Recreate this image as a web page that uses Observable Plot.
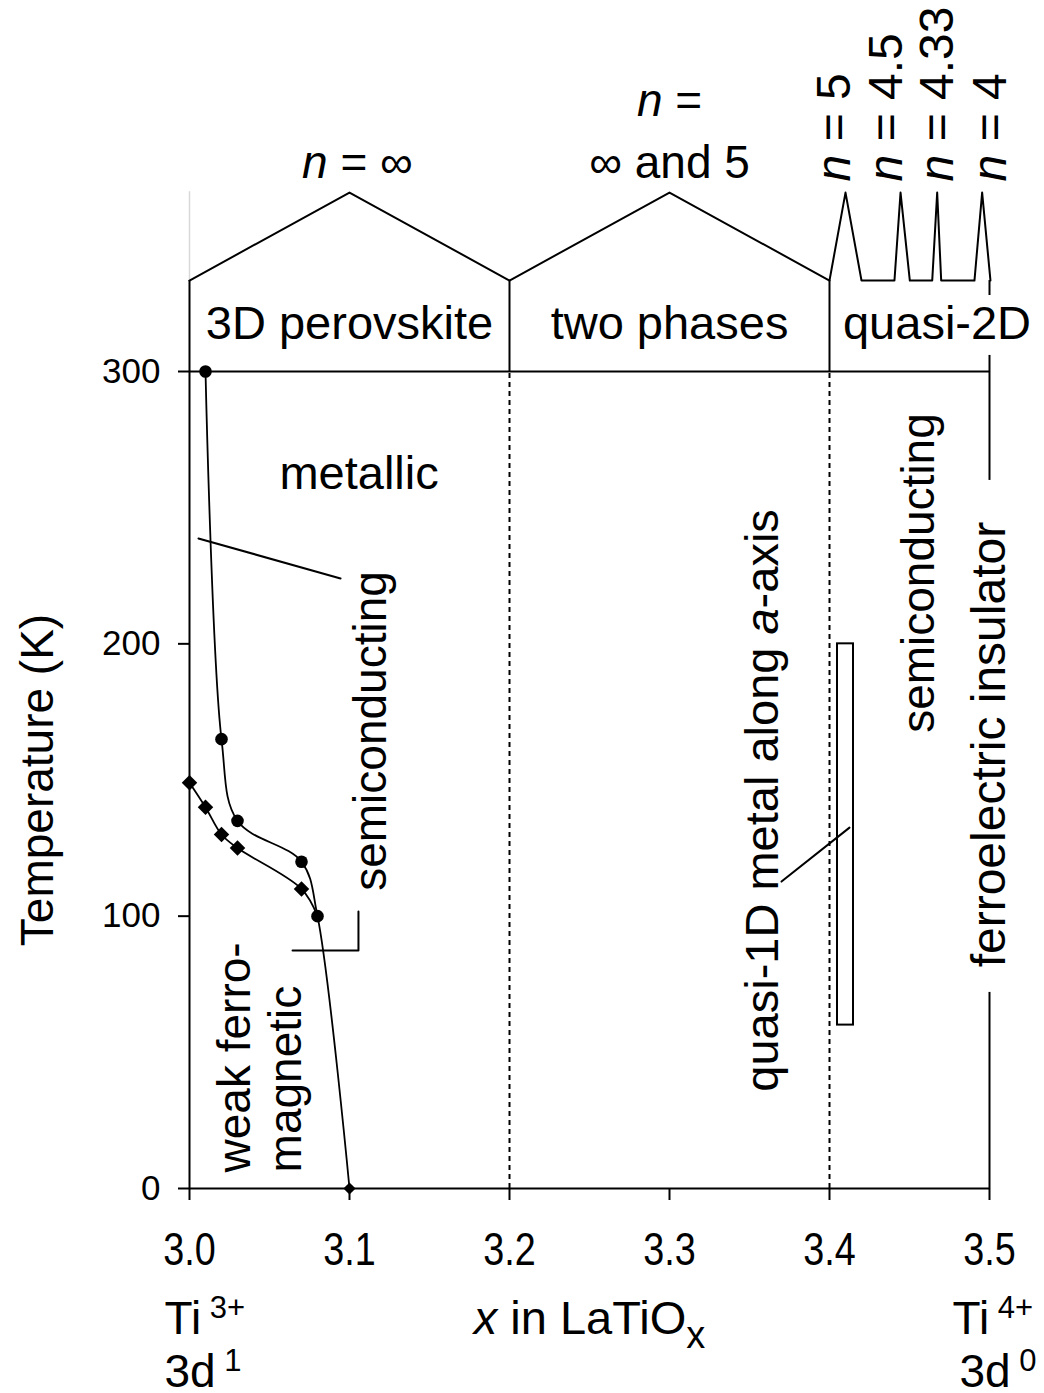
<!DOCTYPE html>
<html>
<head>
<meta charset="utf-8">
<script src="https://cdn.jsdelivr.net/npm/d3@7"></script>
<script src="https://cdn.jsdelivr.net/npm/@observablehq/plot@0.6"></script>
<style>
  html, body { margin: 0; padding: 0; background: #fff; }
</style>
</head>
<body>
<div id="chart"></div>
<script>
// Electronic phase diagram of LaTiO_x (temperature vs oxygen content x)

// Axis ticks
const xTicks = [3.0, 3.1, 3.2, 3.3, 3.4, 3.5];
const tTicks = [0, 100, 200, 300];

// Metal / semiconductor crossover (filled circles)
const transX = [3.01, 3.02, 3.03, 3.07, 3.08];
const transT = [300, 165, 135, 120, 100];

// Weak ferromagnetic ordering temperature (filled diamonds)
const ferroX = [3.0, 3.01, 3.02, 3.03, 3.07];
const ferroT = [149, 140, 130, 125, 110];

// End of the boundary at T = 0
const endX = [3.1];
const endT = [0];

// Structural band above the diagram: roof outline (x, T)
const roofX = [3.0, 3.1, 3.2, 3.3, 3.4, 3.41, 3.42, 3.4406, 3.4444, 3.4502, 3.4642, 3.4673, 3.4698, 3.4906, 3.4954, 3.5006];
const roofT = [333.4, 365.7, 333.4, 365.7, 333.4, 365.7, 333.4, 333.4, 365.7, 333.4, 333.4, 365.7, 333.4, 333.4, 365.7, 333.4];

// Solid frame segments (x, from T, to T)
const frameX  = [3.0, 3.2, 3.4, 3.5, 3.5, 3.5];
const frameLo = [0, 300, 300, 0, 260, 327.9];
const frameHi = [333.4, 333.4, 333.4, 72, 305.9, 333.4];

// Dashed phase boundaries
const boundaryX = [3.2, 3.4];

// Leader lines (id, x, T)
const leaderId = [1, 1, 2, 2, 2, 3, 3];
const leaderX  = [3.0056, 3.0944, 3.0644, 3.1056, 3.1056, 3.37, 3.4125];
const leaderT  = [238.7, 224.0, 87.4, 87.4, 101.7, 112.7, 132.5];

// Quasi-1D metal range
const q1dX = [3.405, 3.415];
const q1dT = [60, 200];

// Region labels
const regionNames = ["3D perovskite", "two phases", "quasi-2D"];
const regionX = [3.1, 3.3, 3.4672];
const regionT = 312.1;

const seriesN = ["*n* = ∞", "*n* =\n∞ and 5"];
const seriesNX = [3.105, 3.3];
const seriesNT = 371.2;

const layerN = ["*n* = 5", "*n* = 4.5", "*n* = 4.33", "*n* = 4"];
const layerNX = [3.4131, 3.4456, 3.4769, 3.51];
const layerNT = 369.8;

// ---------------------------------------------------------------
const big = 46;
const wide = 47;
const baseFont = "'Liberation Sans', Arial, Helvetica, sans-serif";

function fontAvailable(name) {
  const ctx = document.createElement("canvas").getContext("2d");
  const probe = "3.0 100 0123456789 abcXYZ";
  ctx.font = "40px monospace";
  const a = ctx.measureText(probe).width;
  ctx.font = `40px "${name}", monospace`;
  const b = ctx.measureText(probe).width;
  return a !== b;
}
const narrowName = ["Liberation Sans Narrow", "Arial Narrow"].find(fontAvailable);
const tickFont = narrowName ? `'${narrowName}', ${baseFont}` : baseFont;

const zip = (xs, ys) => xs.map((x, i) => ({x, y: Array.isArray(ys) ? ys[i] : ys}));

const transPts = zip(transX, transT);
const ferroPts = zip(ferroX, ferroT);
const endPts = zip(endX, endT);
const transLine = transPts.concat(endPts);
const ferroLine = ferroPts.concat([transPts[transPts.length - 1]]);
const roof = zip(roofX, roofT);
const frame = frameX.map((x, i) => ({x, lo: frameLo[i], hi: frameHi[i]}));
const leaders = leaderX.map((x, i) => ({id: leaderId[i], x, y: leaderT[i]}));

const lineStyle = {stroke: "black", strokeWidth: 2};
const textStyle = {fill: "black", fontSize: big, fontFamily: baseFont};
const flatStyle = {fill: "black", fontSize: wide, fontFamily: baseFont};

const svg = Plot.plot({
  width: 1044,
  height: 1393,
  marginLeft: 189,
  marginRight: 55,
  marginTop: 371,
  marginBottom: 205,
  x: {domain: [3.0, 3.5]},
  y: {domain: [0, 300]},
  style: {background: "white", color: "black", fontFamily: baseFont, overflow: "visible"},
  marks: [
    // faint guide above the temperature axis
    Plot.ruleX([3.0], {y1: 333.4, y2: 366, stroke: "#d8d8d8", strokeWidth: 1.5}),
    // frame
    Plot.ruleX(frame, {x: "x", y1: "lo", y2: "hi", ...lineStyle}),
    Plot.ruleY([0, 300], {x1: 3.0, x2: 3.5, ...lineStyle}),
    Plot.ruleX(boundaryX, {y1: 0, y2: 300, stroke: "black", strokeWidth: 2, strokeDasharray: "5,4"}),
    Plot.line(roof, {x: "x", y: "y", ...lineStyle}),
    // axes
    Plot.axisY({ticks: tTicks, tickSize: 11, tickPadding: 18, label: null, strokeWidth: 2,
      fontSize: 35, fontFamily: baseFont}),
    Plot.axisX({ticks: xTicks, tickFormat: d3.format(".1f"), tickSize: 12, tickPadding: 32, label: null,
      strokeWidth: 2, fontSize: big, fontFamily: tickFont, className: "tick-labels"}),
    // quasi-1D range
    Plot.rect([0], {x1: q1dX[0], x2: q1dX[1], y1: q1dT[0], y2: q1dT[1], fill: "none", ...lineStyle}),
    // leaders
    Plot.line(leaders, {x: "x", y: "y", z: "id", ...lineStyle}),
    // boundaries
    Plot.line(ferroLine, {x: "x", y: "y", curve: "catmull-rom", stroke: "black", strokeWidth: 1.8}),
    Plot.line(transLine, {x: "x", y: "y", curve: "catmull-rom", stroke: "black", strokeWidth: 1.8}),
    Plot.dot(ferroPts, {x: "x", y: "y", symbol: "diamond2", r: 7, fill: "black", stroke: "none"}),
    Plot.dot(transPts, {x: "x", y: "y", symbol: "circle", r: 6.3, fill: "black", stroke: "none"}),
    Plot.dot(endPts, {x: "x", y: "y", symbol: "diamond2", r: 5.5, fill: "black", stroke: "none"}),
    // structural labels
    Plot.text(regionNames, {x: (d, i) => regionX[i], y: regionT, text: d => d,
      textAnchor: "middle", lineAnchor: "bottom", ...flatStyle}),
    Plot.text(seriesN, {x: (d, i) => seriesNX[i], y: seriesNT, text: d => d,
      textAnchor: "middle", lineAnchor: "bottom", lineHeight: 1.33, ...textStyle}),
    Plot.text(layerN, {x: (d, i) => layerNX[i], y: layerNT, text: d => d, rotate: -90,
      textAnchor: "start", lineAnchor: "bottom", ...textStyle, fontSize: 48}),
    // electronic phases
    Plot.text(["metallic"], {x: 3.106, y: 257, text: d => d, textAnchor: "middle", lineAnchor: "bottom", ...flatStyle}),
    Plot.text(["semiconducting"], {x: 3.1225, y: 168, text: d => d, rotate: -90,
      textAnchor: "middle", lineAnchor: "bottom", ...textStyle}),
    Plot.text(["weak ferro-\nmagnetic"], {x: 3.0694, y: 5.9, text: d => d, rotate: -90,
      textAnchor: "start", lineAnchor: "bottom", lineHeight: 1.1, ...textStyle}),
    Plot.text(["quasi-1D metal along *a*-axis"], {x: 3.3675, y: 142.5, text: d => d, rotate: -90,
      textAnchor: "middle", lineAnchor: "bottom", ...textStyle, fontSize: 47}),
    Plot.text(["semiconducting"], {x: 3.465, y: 226, text: d => d, rotate: -90,
      textAnchor: "middle", lineAnchor: "bottom", ...textStyle}),
    Plot.text(["ferroelectric insulator"], {x: 3.5, y: 163, text: d => d, rotate: -90,
      textAnchor: "middle", lineAnchor: "middle", ...textStyle, fontSize: 48}),
    // axis titles and end-member labels
    Plot.text(["Temperature (K)"], {x: 3.0, y: 150, dx: -137, text: d => d, rotate: -90,
      textAnchor: "middle", lineAnchor: "bottom", ...textStyle}),
    Plot.text(["*x* in LaTiO~x~"], {x: 3.25, y: 0, dy: 145, text: d => d,
      textAnchor: "middle", lineAnchor: "bottom", ...flatStyle}),
    Plot.text(["Ti^ 3+^"], {x: 3.0, y: 0, dx: -25, dy: 145, text: d => d,
      textAnchor: "start", lineAnchor: "bottom", ...textStyle}),
    Plot.text(["3d^ 1^"], {x: 3.0, y: 0, dx: -25, dy: 198, text: d => d,
      textAnchor: "start", lineAnchor: "bottom", ...textStyle}),
    Plot.text(["Ti^ 4+^"], {x: 3.5, y: 0, dx: -37, dy: 145, text: d => d,
      textAnchor: "start", lineAnchor: "bottom", ...textStyle}),
    Plot.text(["3d^ 0^"], {x: 3.5, y: 0, dx: -30, dy: 198, text: d => d,
      textAnchor: "start", lineAnchor: "bottom", ...textStyle})
  ]
});

document.getElementById("chart").append(svg);

// Inline markup: *italic*, ^superscript^, ~subscript~
const SVGNS = "http://www.w3.org/2000/svg";
function richText(el) {
  const s = el.textContent;
  if (!/[*^~]/.test(s)) return;
  const parts = s.split(/(\*[^*]*\*|\^[^^]*\^|~[^~]*~)/).filter(p => p !== "");
  el.textContent = "";
  let shift = 0;
  for (const p of parts) {
    const t = document.createElementNS(SVGNS, "tspan");
    let rise = 0;
    if (p.length > 1 && p[0] === "*" && p.endsWith("*")) {
      t.textContent = p.slice(1, -1);
      t.setAttribute("font-style", "italic");
    } else if (p.length > 1 && p[0] === "^" && p.endsWith("^")) {
      t.textContent = p.slice(1, -1);
      t.setAttribute("font-size", "31px");
      t.setAttribute("xml:space", "preserve");
      t.style.whiteSpace = "pre";
      rise = -16;
    } else if (p.length > 1 && p[0] === "~" && p.endsWith("~")) {
      t.textContent = p.slice(1, -1);
      t.setAttribute("font-size", "38px");
      rise = 14;
    } else {
      t.textContent = p;
    }
    if (rise - shift) t.setAttribute("dy", rise - shift);
    shift = rise;
    el.appendChild(t);
  }
}
svg.querySelectorAll("text").forEach(t => {
  const lines = Array.from(t.children).filter(c => c.tagName === "tspan");
  if (lines.length) lines.forEach(richText); else richText(t);
});

// Condensed tick numerals when no narrow face is installed
if (!narrowName) {
  svg.querySelectorAll(".tick-labels text").forEach(t => {
    const w = t.getComputedTextLength();
    t.setAttribute("textLength", (w * 0.82).toFixed(2));
    t.setAttribute("lengthAdjust", "spacingAndGlyphs");
  });
}
</script>
</body>
</html>
